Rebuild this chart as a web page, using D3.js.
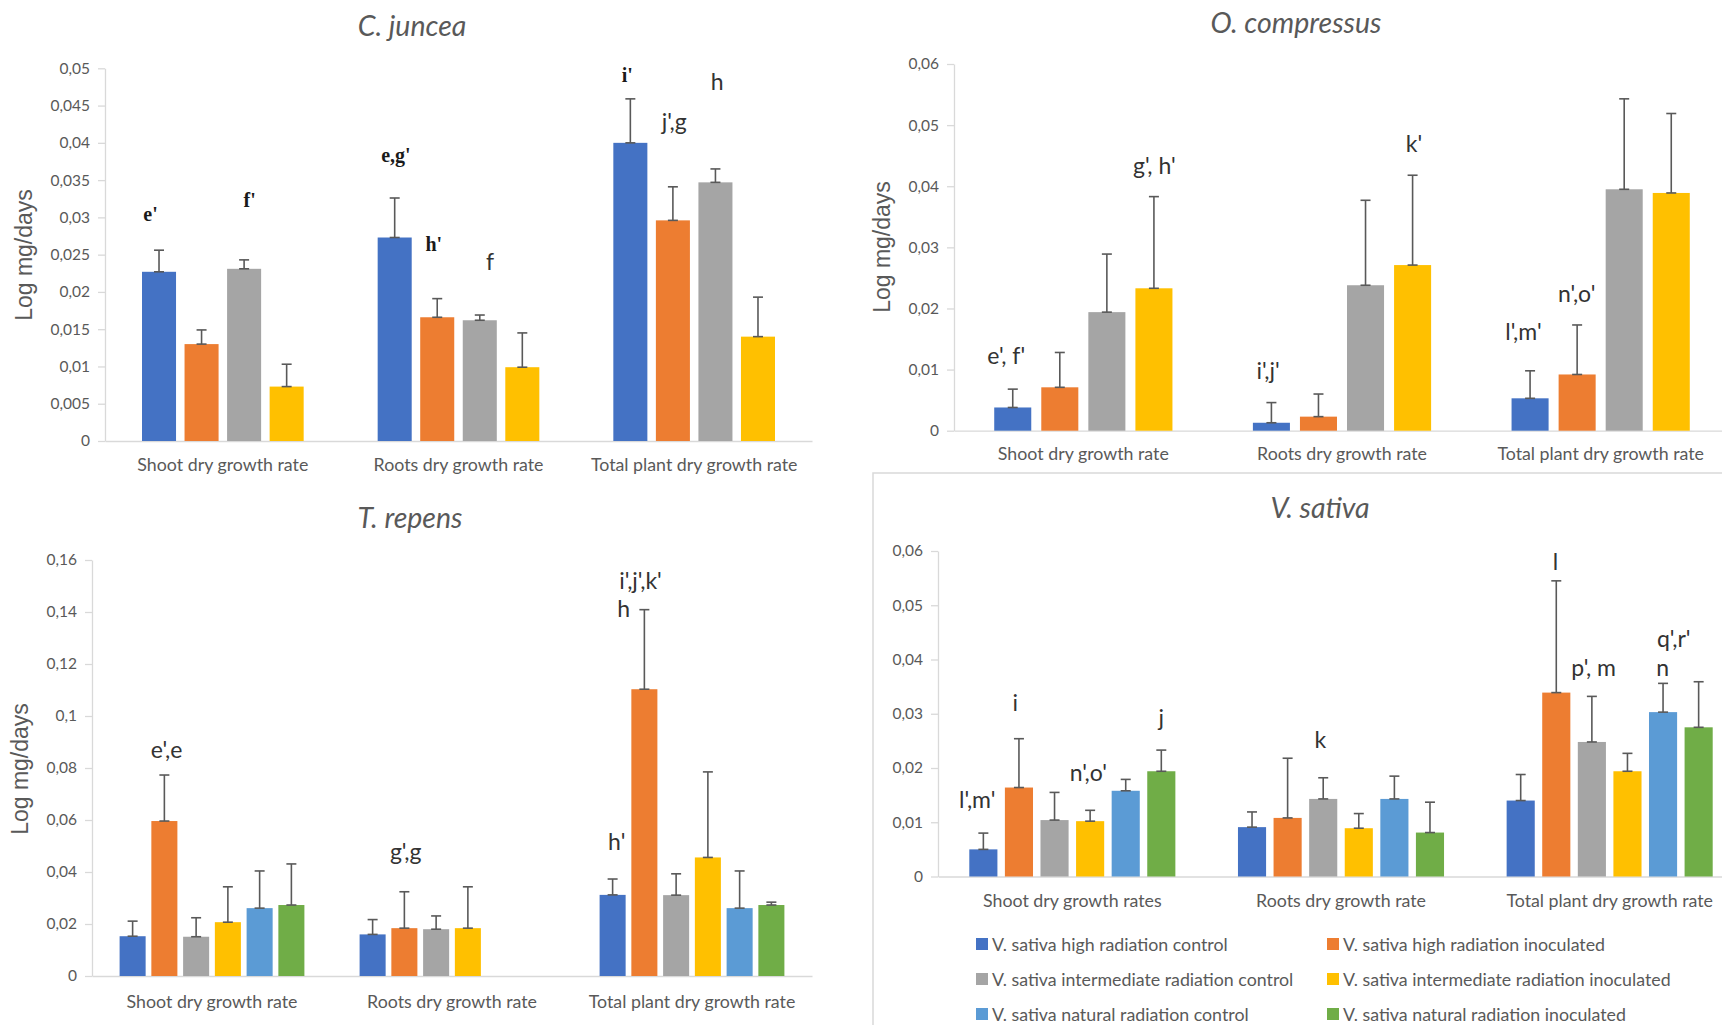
<!DOCTYPE html>
<html><head><meta charset="utf-8">
<script src="https://cdn.jsdelivr.net/npm/d3@7"></script>
<style>
body{margin:0;background:#fff;}
svg{display:block;}
text{font-family:Lato,"Open Sans",sans-serif;}
</style></head><body>
<svg id="chart" width="1722" height="1025"></svg>
<script>
// ---------------- DATA ----------------
const categories = ["Shoot dry growth rate", "Roots dry growth rate", "Total plant dry growth rate"];
const categoriesVS = ["Shoot dry growth rates", "Roots dry growth rate", "Total plant dry growth rate"];
const seriesColors = ["#4472C4", "#ED7D31", "#A5A5A5", "#FFC000", "#5B9BD5", "#70AD47"];
const legendLabels = [
  "V. sativa high radiation control", "V. sativa high radiation inoculated",
  "V. sativa intermediate radiation control", "V. sativa intermediate radiation inoculated",
  "V. sativa natural radiation control", "V. sativa natural radiation inoculated"
];

// values[series][category]
const cjValues = [
  [0.0227, 0.0273, 0.0400],
  [0.0130, 0.0166, 0.0296],
  [0.0231, 0.0162, 0.0347],
  [0.0073, 0.0099, 0.0140]
];
const cjErrors = [
  [0.0029, 0.0053, 0.0059],
  [0.0019, 0.0025, 0.0045],
  [0.0012, 0.0007, 0.0018],
  [0.0030, 0.0046, 0.0053]
];
const ocValues = [
  [0.0038, 0.0013, 0.0053],
  [0.0071, 0.0023, 0.0092],
  [0.0194, 0.0238, 0.0395],
  [0.0233, 0.0271, 0.0389]
];
const ocErrors = [
  [0.0030, 0.0033, 0.0045],
  [0.0057, 0.0037, 0.0081],
  [0.0095, 0.0139, 0.0148],
  [0.0150, 0.0147, 0.0130]
];
const trValues = [
  [0.0153, 0.0160, 0.0312],
  [0.0596, 0.0184, 0.1103],
  [0.0151, 0.0180, 0.0311],
  [0.0207, 0.0184, 0.0456],
  [0.0261, null, 0.0261],
  [0.0273, null, 0.0273]
];
const trErrors = [
  [0.0058, 0.0057, 0.0061],
  [0.0177, 0.0140, 0.0306],
  [0.0073, 0.0051, 0.0082],
  [0.0136, 0.0159, 0.0329],
  [0.0143, null, 0.0143],
  [0.0158, null, 0.0011]
];
const vsValues = [
  [0.0050, 0.0091, 0.0140],
  [0.0164, 0.0108, 0.0339],
  [0.0104, 0.0143, 0.0248],
  [0.0102, 0.0089, 0.0194],
  [0.0158, 0.0143, 0.0303],
  [0.0194, 0.0081, 0.0275]
];
const vsErrors = [
  [0.0030, 0.0028, 0.0048],
  [0.0090, 0.0110, 0.0206],
  [0.0051, 0.0039, 0.0084],
  [0.0020, 0.0027, 0.0033],
  [0.0021, 0.0042, 0.0053],
  [0.0039, 0.0056, 0.0084]
];

// annotations: [text, category index, series position, y value, serif?]
const cjAnnots = [
  ["e'", 0, -0.2, 0.0305, true], ["f'", 0, 2.13, 0.0323, true],
  ["e,g'", 1, 0.03, 0.0384, true], ["h'", 1, 0.92, 0.0264, true], ["f", 1, 2.24, 0.0241, false],
  ["i'", 2, -0.07, 0.0491, true], ["j',g", 2, 1.03, 0.0429, false], ["h", 2, 2.04, 0.0483, false]
];
const ocAnnots = [
  ["e', f'", 0, -0.14, 0.0124], ["g', h'", 0, 3.01, 0.0434],
  ["i',j'", 1, -0.07, 0.0099], ["k'", 1, 3.03, 0.0470],
  ["l',m'", 2, -0.14, 0.0163], ["n',o'", 2, 0.99, 0.0225]
];
const trAnnots = [
  ["e',e", 0, 1.07, 0.0873], ["g',g", 1, 1.04, 0.0481],
  ["h'", 2, 0.13, 0.0519], ["h", 2, 0.35, 0.1415], ["i',j',k'", 2, 0.88, 0.1523]
];
const vsAnnots = [
  ["l',m'", 0, -0.17, 0.0143], ["i", 0, 0.9, 0.0322], ["n',o'", 0, 2.95, 0.0193], ["j", 0, 5.0, 0.0294],
  ["k", 1, 1.92, 0.0254],
  ["l", 2, 0.98, 0.0582], ["p', m", 2, 2.05, 0.0386], ["q',r'", 2, 4.3, 0.0440], ["n", 2, 3.99, 0.0386]
];

// ---------------- LAYOUT ----------------
const panels = [
  {title: "C. juncea", cats: categories, values: cjValues, errors: cjErrors, annots: cjAnnots,
   x0: 105, x1: 812, yBase: 441, yTop: 68.3, yMax: 0.05, tickStep: 0.005,
   titleX: 412, titleY: 25, ylab: true, ylabX: 24, ylabY: 255, catY: 467, outerPad: 0.314, innerPad: 0.2},
  {title: "O. compressus", cats: categories, values: ocValues, errors: ocErrors, annots: ocAnnots,
   x0: 954, x1: 1730, yBase: 430.7, yTop: 64, yMax: 0.06, tickStep: 0.01,
   titleX: 1296, titleY: 22, ylab: true, ylabX: 882, ylabY: 247, catY: 456, outerPad: 0.311, innerPad: 0.213},
  {title: "T. repens", cats: categories, values: trValues, errors: trErrors, annots: trAnnots,
   x0: 92, x1: 812, yBase: 976, yTop: 560, yMax: 0.16, tickStep: 0.02,
   titleX: 410, titleY: 517, ylab: true, ylabX: 20, ylabY: 769, catY: 1004, outerPad: 0.23, innerPad: 0.18},
  {title: "V. sativa", cats: categoriesVS, values: vsValues, errors: vsErrors, annots: vsAnnots,
   x0: 938, x1: 1744, yBase: 876.5, yTop: 551, yMax: 0.06, tickStep: 0.01,
   titleX: 1320, titleY: 507, ylab: false, catY: 903, outerPad: 0.233, innerPad: 0.21}
];

const svg = d3.select("#chart");
const fmt = v => (+v.toFixed(4)).toString().replace(".", ",");
const axisColor = "#d9d9d9";
const textColor = "#595959";

// V. sativa frame
svg.append("rect").attr("x", 873).attr("y", 473).attr("width", 900).attr("height", 600)
  .attr("fill", "none").attr("stroke", axisColor).attr("stroke-width", 1.5);

panels.forEach(p => {
  const g = svg.append("g");
  const nS = p.values.length;
  const x = d3.scaleBand().domain(d3.range(p.cats.length)).range([p.x0, p.x1])
    .paddingInner(p.outerPad).paddingOuter(p.outerPad / 2);
  const xs = d3.scaleBand().domain(d3.range(nS)).range([0, x.bandwidth()]).paddingInner(p.innerPad);
  const y = d3.scaleLinear().domain([0, p.yMax]).range([p.yBase, p.yTop]);
  const ticks = d3.range(0, p.yMax + p.tickStep / 2, p.tickStep);

  // y axis
  const ya = g.append("g").attr("transform", `translate(${p.x0},0)`)
    .call(d3.axisLeft(y).tickValues(ticks).tickFormat(fmt).tickSize(7).tickSizeOuter(0).tickPadding(8));
  ya.select(".domain").attr("stroke", axisColor).attr("stroke-width", 1.3);
  ya.selectAll(".tick line").attr("stroke", axisColor).attr("stroke-width", 1.3);
  ya.selectAll(".tick text").attr("fill", textColor).style("font-size", "15.5px")
    .style("font-family", "Lato, sans-serif");

  // x axis
  const xa = g.append("g").attr("transform", `translate(0,${p.yBase})`)
    .call(d3.axisBottom(x).tickFormat(i => p.cats[i]).tickSize(0).tickSizeOuter(0).tickPadding(p.catY - p.yBase - 9));
  xa.select(".domain").attr("stroke", axisColor).attr("stroke-width", 1.3);
  xa.selectAll(".tick text").attr("fill", textColor).style("font-size", "17.8px")
    .style("font-family", "Lato, sans-serif");

  // bars
  p.values.forEach((row, s) => {
    row.forEach((v, c) => {
      if (v == null) return;
      const bx = x(c) + xs(s);
      g.append("rect").attr("x", bx).attr("y", y(v)).attr("width", xs.bandwidth())
        .attr("height", y(0) - y(v)).attr("fill", seriesColors[s]);
    });
  });

  // error bars
  p.values.forEach((row, s) => {
    row.forEach((v, c) => {
      const e = p.errors[s][c];
      if (v == null || e == null) return;
      const cx = x(c) + xs(s) + xs.bandwidth() / 2;
      const eg = g.append("g").attr("stroke", "#595959").attr("stroke-width", 1.6);
      eg.append("line").attr("x1", cx).attr("x2", cx).attr("y1", y(v)).attr("y2", y(v + e));
      eg.append("line").attr("x1", cx - 5).attr("x2", cx + 5).attr("y1", y(v + e)).attr("y2", y(v + e));
      eg.append("line").attr("x1", cx - 5).attr("x2", cx + 5).attr("y1", y(v)).attr("y2", y(v));
    });
  });

  // annotations
  p.annots.forEach(a => {
    const [txt, c, s, v, serif] = a;
    const ax = x(c) + xs.step() * s + xs.bandwidth() / 2;
    g.append("text").attr("x", ax).attr("y", y(v)).attr("text-anchor", "middle")
      .attr("dominant-baseline", "central")
      .attr("fill", serif ? "#1a1a1a" : "#333333")
      .style("font-family", serif ? "'Liberation Serif', serif" : "Lato, sans-serif")
      .style("font-weight", serif ? "bold" : "normal")
      .style("font-size", serif ? "20px" : "23px")
      .text(txt);
  });

  // title
  g.append("text").attr("x", p.titleX).attr("y", p.titleY).attr("text-anchor", "middle")
    .attr("dominant-baseline", "central").attr("fill", textColor)
    .style("font-style", "italic").style("font-size", "28.5px").text(p.title);

  // y label
  if (p.ylab) {
    g.append("text").attr("transform", `translate(${p.ylabX},${p.ylabY}) rotate(-90)`)
      .attr("text-anchor", "middle").attr("dominant-baseline", "central").attr("fill", textColor)
      .style("font-family", "'Liberation Sans', Arial, sans-serif").style("font-size", "23px")
      .text("Log mg/days");
  }

  // legend (V. sativa)
  if (p.title === "V. sativa") {
    const lx = [976, 1327], ly = [944, 979, 1014];
    legendLabels.forEach((lab, i) => {
      const col = i % 2, row = Math.floor(i / 2);
      const lg = svg.append("g").attr("transform", `translate(${lx[col]},${ly[row]})`);
      lg.append("rect").attr("x", 0).attr("y", -6).attr("width", 12).attr("height", 12).attr("fill", seriesColors[i]);
      lg.append("text").attr("x", 16).attr("y", 0).attr("dominant-baseline", "central")
        .attr("fill", textColor).style("font-size", "17.8px").text(lab);
    });
  }
});
</script></body></html>
